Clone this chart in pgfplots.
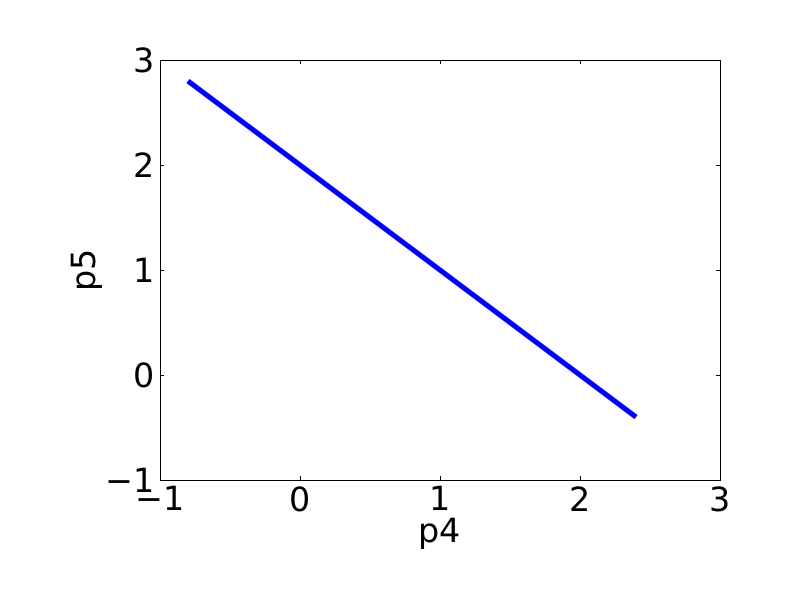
\documentclass[border=0pt]{standalone}
\usepackage{pgfplots}
\pgfplotsset{compat=1.18}
\usepackage{fontspec}
\setmainfont{DejaVu Sans}
\begin{document}
\begin{tikzpicture}
\begin{axis}[
  at={(0,0)}, anchor=south west,
  scale only axis, width=403.2pt, height=302.4pt,
  xmin=-1, xmax=3, ymin=-1, ymax=3,
  xtick={-1,0,1,2,3}, ytick={-1,0,1,2,3},
  xticklabels={−1,0,1,2,3}, yticklabels={−1,0,1,2,3},
  tick align=inside, major tick length=2.9pt,
  tick style={black, line width=0.6pt},
  axis line style={line width=0.7pt},
  ticklabel style={font=\fontsize{24}{28}\selectfont},
  label style={font=\fontsize{24}{28}\selectfont},
  xticklabel style={yshift=-1pt},
  xlabel={p4}, ylabel={p5},
  xlabel style={yshift=1.7pt},
  ylabel style={yshift=-4pt},
]
\addplot[color={rgb,255:red,0;green,0;blue,255}, line width=3.6pt] coordinates {(-0.8,2.8) (2.4,-0.4)};
\end{axis}
\path[use as bounding box] (-115.2pt,-86.4pt) rectangle (460.8pt,345.6pt);
\end{tikzpicture}
\end{document}
